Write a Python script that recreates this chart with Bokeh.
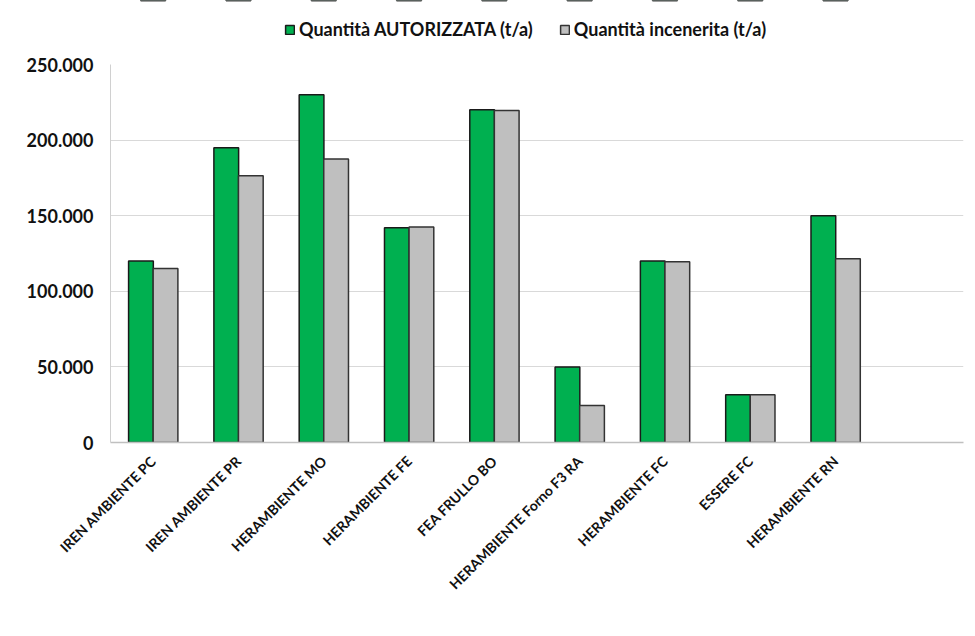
from bokeh.plotting import figure
from bokeh.models import ColumnDataSource, FactorRange, Range1d, FixedTicker, Legend, LegendItem
from bokeh.layouts import column
from bokeh.transform import dodge
from bokeh.embed import file_html
from bokeh.resources import INLINE
from math import pi

categories = ["IREN AMBIENTE PC", "IREN AMBIENTE PR", "HERAMBIENTE MO", "HERAMBIENTE FE",
              "FEA FRULLO BO", "HERAMBIENTE Forno F3 RA", "HERAMBIENTE FC", "ESSERE FC",
              "HERAMBIENTE RN"]
autorizzata = [120000, 195000, 230000, 142000, 220000, 50000, 120000, 31500, 150000]
incenerita = [115000, 176500, 187500, 142500, 219500, 24500, 119500, 31500, 121500]
series_names = ["Quantità AUTORIZZATA (t/a)", "Quantità incenerita (t/a)"]
y_ticks = [0, 50000, 100000, 150000, 200000, 250000]
y_tick_labels = ["0", "50.000", "100.000", "150.000", "200.000", "250.000"]

FONT = "Lato"
GREEN = "#00B050"
GRAY = "#BFBFBF"
GREEN_LINE = "#1a1a1a"
GRAY_LINE = "#333333"

factors = categories + [" "]
src = ColumnDataSource(dict(cat=categories, a=autorizzata, b=incenerita))

W = 968
LEG_H = 50

p = figure(x_range=FactorRange(factors=factors, range_padding=0),
           y_range=Range1d(0, 250000),
           width=W, height=628 - LEG_H, output_backend="svg", toolbar_location=None,
           min_border_left=110, min_border_right=5, min_border_top=64 - LEG_H,
           min_border_bottom=186)

r1 = p.vbar(x=dodge("cat", -0.143, range=p.x_range), top="a", width=0.29, source=src,
            fill_color=GREEN, line_color=GREEN_LINE, line_width=1.5)
r2 = p.vbar(x=dodge("cat", 0.145, range=p.x_range), top="b", width=0.29, source=src,
            fill_color=GRAY, line_color=GRAY_LINE, line_width=1.5)

p.outline_line_color = None
p.xgrid.grid_line_color = None
p.ygrid.grid_line_color = "#d9d9d9"
p.ygrid.grid_line_width = 1.2

p.yaxis.ticker = FixedTicker(ticks=y_ticks)
p.yaxis.major_label_overrides = {t: l for t, l in zip(y_ticks, y_tick_labels)}
p.yaxis.major_label_text_font = FONT
p.yaxis.major_label_text_font_style = "bold"
p.yaxis.major_label_text_font_size = "18px"
p.yaxis.major_label_text_color = "#111111"
p.yaxis.major_tick_line_color = None
p.yaxis.minor_tick_line_color = None
p.yaxis.axis_line_color = "#d0d0d0"
p.yaxis.major_label_standoff = 11

p.xaxis.major_label_orientation = pi / 4
p.xaxis.major_label_text_font = FONT
p.xaxis.major_label_text_font_style = "bold"
p.xaxis.major_label_text_font_size = "14px"
p.xaxis.major_label_text_color = "#111111"
p.xaxis.major_tick_line_color = None
p.xaxis.minor_tick_line_color = None
p.xaxis.axis_line_color = "#c0c0c0"
p.xaxis.axis_line_width = 1.5
p.xaxis.major_label_standoff = 10

# legend strip on top: the same series drawn into a value range that lies far
# outside their data, so only their legend swatches are visible
lg = figure(width=W, height=LEG_H, output_backend="svg", toolbar_location=None,
            x_range=FactorRange(factors=factors, range_padding=0), y_range=Range1d(-2e6, -1e6),
            x_axis_location=None, y_axis_location=None,
            min_border_left=110, min_border_right=5, min_border_top=0, min_border_bottom=0)
lg.grid.visible = False
lg.outline_line_color = None
d1 = lg.vbar(x="cat", top="a", width=0.29, source=src,
             fill_color=GREEN, line_color=GREEN_LINE, line_width=1.5)
d2 = lg.vbar(x="cat", top="b", width=0.29, source=src,
             fill_color=GRAY, line_color=GRAY_LINE, line_width=1.5)

legend = Legend(items=[LegendItem(label=series_names[0], renderers=[d1]),
                       LegendItem(label=series_names[1], renderers=[d2])],
                orientation="horizontal", location=(174, 10),
                label_text_font=FONT, label_text_font_style="bold", label_text_font_size="18px",
                label_text_color="#111111", glyph_width=11, glyph_height=11,
                label_standoff=4, spacing=26, border_line_color=None, background_fill_alpha=0,
                margin=0, padding=4)
lg.add_layout(legend, "center")

layout = column(lg, p, spacing=0)
open("out.html", "w").write(file_html(layout, INLINE))
